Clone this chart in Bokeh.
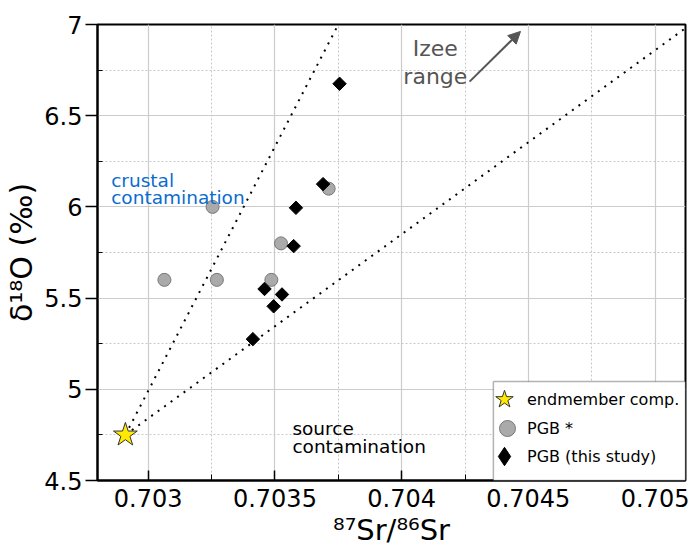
from bokeh.plotting import figure
from bokeh.models import (Range1d, FixedTicker, Legend, LegendItem, Label, Arrow,
                          NormalHead, BoxAnnotation, CDSView, IndexFilter, ColumnDataSource)
from bokeh.embed import file_html
from bokeh.resources import INLINE

# ---- data ----
end_sr = [0.70291]
end_o = [4.75]
pgb_lit_sr = [0.703064, 0.703271, 0.703486, 0.703254, 0.703524, 0.703712]
pgb_lit_o = [5.60, 5.60, 5.60, 6.00, 5.80, 6.10]
pgb_sr = [0.703755, 0.703690, 0.703583, 0.703574, 0.703459, 0.703528, 0.703495, 0.703413]
pgb_o = [6.675, 6.125, 5.995, 5.785, 5.55, 5.52, 5.455, 5.275]
crustal_line_sr = [0.70291, 0.70375]
crustal_line_o = [4.75, 7.0]
source_line_sr = [0.70291, 0.70512]
source_line_o = [4.75, 6.98]
izee_arrow_sr = [0.704268, 0.704469]
izee_arrow_o = [6.687, 6.962]
x_ticks = [0.703, 0.7035, 0.704, 0.7045, 0.705]
x_tick_labels = ["0.703", "0.7035", "0.704", "0.7045", "0.705"]
x_minor = [0.70275, 0.70325, 0.70375, 0.70425, 0.70475]
y_ticks = [4.5, 5.0, 5.5, 6.0, 6.5, 7.0]
y_tick_labels = ["4.5", "5", "5.5", "6", "6.5", "7"]
y_minor = [4.75, 5.25, 5.75, 6.25, 6.75]
legend_labels = ["endmember comp.", "PGB *", "PGB (this study)"]

FONT = "DejaVu Sans"

p = figure(width=691, height=549, output_backend="svg", toolbar_location=None,
           x_range=Range1d(0.7028, 0.70512), y_range=Range1d(4.5, 7.0))
p.min_border_left = 97
p.min_border_right = 6
p.min_border_top = 24
p.min_border_bottom = 69
p.outline_line_color = "black"
p.outline_line_width = 2
p.background_fill_color = "white"
p.border_fill_color = "white"

p.xaxis.ticker = FixedTicker(ticks=x_ticks, minor_ticks=x_minor)
p.yaxis.ticker = FixedTicker(ticks=y_ticks, minor_ticks=y_minor)
p.xaxis.major_label_overrides = {v: s for v, s in zip(x_ticks, x_tick_labels)}
p.yaxis.major_label_overrides = {v: s for v, s in zip(y_ticks, y_tick_labels)}

for ax in (p.xaxis[0], p.yaxis[0]):
    ax.axis_line_width = 2
    ax.axis_line_color = "black"
    ax.major_tick_line_color = "black"
    ax.major_tick_line_width = 1.5
    ax.minor_tick_line_color = "black"
    ax.minor_tick_line_width = 1
    ax.major_label_text_font = FONT
    ax.major_label_text_font_size = "24px"
    ax.major_label_text_color = "black"
    ax.axis_label_text_font = FONT
    ax.axis_label_text_font_style = "normal"
    ax.axis_label_text_color = "black"

p.xaxis.major_tick_in = 10
p.xaxis.major_tick_out = 0
p.xaxis.minor_tick_in = 6
p.xaxis.minor_tick_out = 0
p.xaxis.major_label_standoff = 8
p.xaxis.axis_label = "⁸⁷Sr/⁸⁶Sr"
p.xaxis.axis_label_text_font_size = "29px"
p.xaxis.axis_label_standoff = 3

p.yaxis.major_tick_in = 0
p.yaxis.major_tick_out = 12
p.yaxis.minor_tick_in = 5
p.yaxis.minor_tick_out = 0
p.yaxis.major_label_standoff = 3
p.yaxis.axis_label = "δ¹⁸O (‰)"
p.yaxis.axis_label_text_font_size = "30px"
p.yaxis.axis_label_standoff = 2

p.xgrid.grid_line_color = "#cccccc"
p.ygrid.grid_line_color = "#cccccc"
p.xgrid.grid_line_width = 1.2
p.ygrid.grid_line_width = 1.2
p.xgrid.minor_grid_line_color = "#c8c8c8"
p.ygrid.minor_grid_line_color = "#c8c8c8"
p.xgrid.minor_grid_line_dash = "2 2"
p.ygrid.minor_grid_line_dash = "2 2"

# mixing lines
p.line(crustal_line_sr, crustal_line_o, line_color="black", line_width=2, line_dash="2 6")
p.line(source_line_sr, source_line_o, line_color="black", line_width=2, line_dash="2 6")

# points
pgb_src = ColumnDataSource(data=dict(sr=pgb_sr, o=pgb_o))
r_lit = p.scatter(pgb_lit_sr, pgb_lit_o, marker="circle", size=13,
                  fill_color="#aaaaaa", line_color="#777777", line_width=1)
# legend swatch for the diamonds: drawn first, hidden under the first diamond
r_pgb_key = p.scatter("sr", "o", source=pgb_src, marker="diamond", size=11,
                      view=CDSView(filter=IndexFilter(indices=[0])),
                      fill_color="black", line_color="black")
r_pgb = p.scatter("sr", "o", source=pgb_src, marker="square", angle=0.785398, size=9.5,
                  fill_color="black", line_color="black")
r_end = p.scatter(end_sr, end_o, marker="star", size=25,
                  fill_color="#FFEA00", line_color="#333333", line_width=1)

# arrow and annotations
p.add_layout(Arrow(end=NormalHead(size=12, fill_color="#555555", line_color="#555555"),
                   x_start=izee_arrow_sr[0], y_start=izee_arrow_o[0],
                   x_end=izee_arrow_sr[1], y_end=izee_arrow_o[1],
                   line_color="#555555", line_width=2))
p.add_layout(Label(x=0.704133, y=6.868, text="Izee", text_align="center",
                   text_baseline="alphabetic", text_font=FONT, text_font_size="22px",
                   text_color="#555555"))
p.add_layout(Label(x=0.704133, y=6.715, text="range", text_align="center",
                   text_baseline="alphabetic", text_font=FONT, text_font_size="22px",
                   text_color="#555555"))
p.add_layout(Label(x=0.702854, y=6.145, text="crustal", text_align="left",
                   text_baseline="alphabetic", text_font=FONT, text_font_size="18.5px",
                   text_color="#0a6ccf"))
p.add_layout(Label(x=0.702854, y=6.052, text="contamination", text_align="left",
                   text_baseline="alphabetic", text_font=FONT, text_font_size="18.5px",
                   text_color="#0a6ccf"))
p.add_layout(Label(x=0.703569, y=4.785, text="source", text_align="left",
                   text_baseline="alphabetic", text_font=FONT, text_font_size="18.5px",
                   text_color="black"))
p.add_layout(Label(x=0.703569, y=4.686, text="contamination", text_align="left",
                   text_baseline="alphabetic", text_font=FONT, text_font_size="18.5px",
                   text_color="black"))

# legend frame
p.add_layout(BoxAnnotation(left=0.704362, top=5.043, fill_color="white", fill_alpha=1.0,
                           line_color="black", line_width=1.5, level="annotation"))

# one legend per row so rows can sit close with large swatches
# (label, renderer, swatch box, offset from frame's bottom-left)
legend_rows = [(legend_labels[0], r_end, 46, (384, 58)),
               (legend_labels[1], r_lit, 40, (390, 32)),
               (legend_labels[2], r_pgb_key, 46, (384, 1))]
for label, rend, gsz, loc in legend_rows:
    lg = Legend(items=[LegendItem(label=label, renderers=[rend])], location=loc)
    lg.margin = 0
    lg.padding = 0
    lg.spacing = 0
    lg.glyph_width = gsz
    lg.glyph_height = gsz
    lg.label_standoff = 0
    lg.label_text_font = FONT
    lg.label_text_font_size = "16px"
    lg.label_text_color = "black"
    lg.border_line_color = None
    lg.background_fill_alpha = 0.0
    p.add_layout(lg)

open("out.html", "w").write(file_html(p, INLINE))
